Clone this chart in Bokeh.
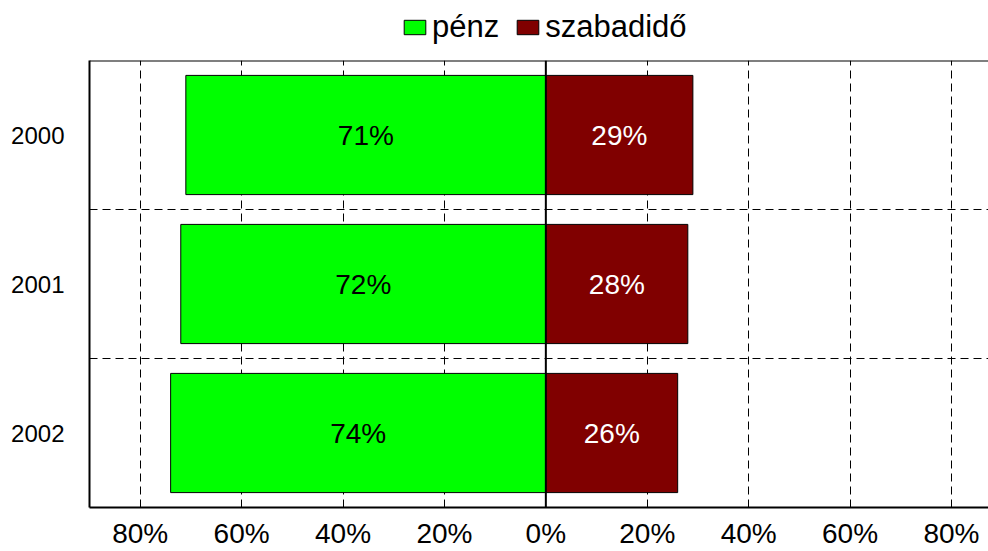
from bokeh.plotting import figure
from bokeh.layouts import column
from bokeh.models import Range1d, FactorRange, Span, FixedTicker, Legend, LegendItem, ColumnDataSource
from bokeh.core.properties import value
from bokeh.embed import file_html
from bokeh.resources import INLINE

years = ["2000", "2001", "2002"]
penz = [71, 72, 74]
szabadido = [29, 28, 26]
series_names = ["pénz", "szabadidő"]
tick_vals = [-80, -60, -40, -20, 0, 20, 40, 60, 80]
tick_labels = ["80%", "60%", "40%", "20%", "0%", "20%", "40%", "60%", "80%"]

FONT = "Liberation Sans"
GREEN = "#00FF00"
RED = "#800000"

p = figure(width=988, height=493, output_backend="svg", toolbar_location=None,
           x_range=Range1d(-90, 87.3), y_range=FactorRange(factors=years[::-1]),
           min_border_left=89, min_border_right=0, min_border_top=2, min_border_bottom=44)
p.outline_line_color = None
p.background_fill_color = "white"
p.border_fill_color = "white"

src = ColumnDataSource(dict(
    year=years,
    penz_left=[-v for v in penz],
    penz_mid=[-v / 2 for v in penz],
    penz_lbl=[f"{v}%" for v in penz],
    sz_right=szabadido,
    sz_mid=[v / 2 for v in szabadido],
    sz_lbl=[f"{v}%" for v in szabadido],
))

# grid
p.xgrid.ticker = FixedTicker(ticks=[t for t in tick_vals if t != 0])
p.xgrid.grid_line_color = "black"
p.xgrid.grid_line_dash = "8 5"
p.xgrid.grid_line_width = 1
p.ygrid.grid_line_color = None
for loc in [1, 2]:
    p.add_layout(Span(location=loc, dimension="width", line_color="black",
                      line_dash="8 5", line_width=1))

p.hbar(y="year", left="penz_left", right=0, height=0.8, source=src,
       fill_color=GREEN, line_color="black", line_width=1)
p.hbar(y="year", left=0, right="sz_right", height=0.8, source=src,
       fill_color=RED, line_color="black", line_width=1)

p.add_layout(Span(location=0, dimension="height", line_color="black", line_width=2))
p.add_layout(Span(location=3, dimension="width", line_color="black", line_width=2))

p.text(x="penz_mid", y="year", text="penz_lbl", source=src, text_align="center",
       text_baseline="middle", text_font=value(FONT), text_font_size="28px", text_color="black")
p.text(x="sz_mid", y="year", text="sz_lbl", source=src, text_align="center",
       text_baseline="middle", text_font=value(FONT), text_font_size="28px", text_color="white")

# axes
p.xaxis.ticker = FixedTicker(ticks=tick_vals)
p.xaxis.major_label_overrides = {v: l for v, l in zip(tick_vals, tick_labels)}
p.xaxis.major_label_text_font = FONT
p.xaxis.major_label_text_font_size = "28px"
p.xaxis.major_label_text_color = "black"
p.xaxis.major_label_standoff = 10
p.xaxis.major_tick_out = 0
p.xaxis.major_tick_in = 0
p.xaxis.minor_tick_line_color = None
p.xaxis.axis_line_color = "black"
p.xaxis.axis_line_width = 2

p.yaxis.major_label_text_font = FONT
p.yaxis.major_label_text_font_size = "24px"
p.yaxis.major_label_text_color = "black"
p.yaxis.major_label_standoff = 25
p.yaxis.major_tick_out = 0
p.yaxis.major_tick_in = 0
p.yaxis.axis_line_color = "black"
p.yaxis.axis_line_width = 2

# legend strip above the plot (carrier glyphs lie outside its visible range)
lg = figure(width=988, height=58, output_backend="svg", toolbar_location=None,
            x_range=Range1d(0, 1), y_range=Range1d(0, 1),
            x_axis_location=None, y_axis_location=None,
            min_border=0, min_border_left=0, min_border_right=0,
            min_border_top=0, min_border_bottom=0)
lg.grid.visible = False
lg.outline_line_color = None
lg.background_fill_color = "white"
lg.border_fill_color = "white"
carrier = ColumnDataSource(dict(y=[-5], left=[-5], right=[-4]))
g1 = lg.hbar(y="y", left="left", right="right", height=1, source=carrier,
             fill_color=GREEN, line_color="black", line_width=1)
g2 = lg.hbar(y="y", left="left", right="right", height=1, source=carrier,
             fill_color=RED, line_color="black", line_width=1)
legend = Legend(items=[LegendItem(label=series_names[0], renderers=[g1]),
                       LegendItem(label=series_names[1], renderers=[g2])],
                orientation="horizontal", location=(312, 13),
                label_text_font=FONT, label_text_font_size="31px", label_text_color="black",
                glyph_width=27, glyph_height=18, label_standoff=4, spacing=15,
                padding=2, margin=0, border_line_color=None, background_fill_alpha=0)
lg.add_layout(legend, "center")

layout = column(lg, p, spacing=0)
open("out.html", "w").write(file_html(layout, INLINE))
